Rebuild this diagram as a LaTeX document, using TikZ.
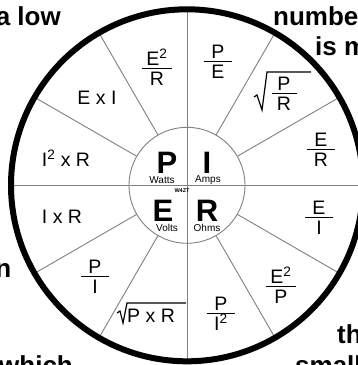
\documentclass[tikz,border=0pt]{standalone}
\usepackage{fontspec}
\setmainfont{Liberation Sans}
\usetikzlibrary{calc}
\newcommand\frc[3][28pt]{\vbox{\hsize=#1\offinterlineskip
  \hbox to #1{\hss#2\hss}\kern2.6pt
  \hrule height 1.3pt\kern3pt
  \hbox to #1{\hss#3\hss}}}
\newcommand\sq{\smash{\textsuperscript{2}}}
\tikzset{
  spoke/.style={draw=gray, line width=0.9pt},
  rim/.style={draw=black, line width=6pt},
  formula/.style={inner sep=0pt, font=\fontsize{19.5}{21}\selectfont},
  big/.style={inner sep=0pt, font=\fontsize{31}{31}\selectfont\bfseries},
  unit/.style={inner sep=0pt, font=\fontsize{10}{10}\selectfont},
  bgtext/.style={inner sep=0pt, font=\fontsize{26}{30}\selectfont\bfseries},
  radical/.style={draw=black, line width=1.2pt, line join=miter},
}
\begin{document}
\begin{tikzpicture}[x=1pt,y=-1pt]
\clip (0,0) rectangle (358,365);
\fill[white] (0,0) rectangle (358,365);
\coordinate (C) at (187,185.3);
% background text fragments
\node[bgtext, anchor=base east] (t1) at (61,25) {a low};
\node[bgtext, anchor=base west] (t2) at (273,25) {numbe};
\node[bgtext, anchor=base west] (t3) at (315,55) {is m};
\node[bgtext, anchor=base east] (t4) at (11.5,277) {n};
\node[bgtext, anchor=base west] (t5) at (337,343) {th};
\node[bgtext, anchor=base west] (t6) at (-1,374) {which};
\node[bgtext, anchor=base west] (t7) at (295,374) {small};
% wheel
\draw[spoke] ($(C)+(0,-176)$) -- ($(C)+(0,176)$);
\draw[spoke] ($(C)+(-176,0)$) -- ($(C)+(176,0)$);
\foreach \a in {30,60,120,150,210,240,300,330}
  \draw[spoke,shift={(C)}] (\a:58) -- (\a:176);
\draw[spoke] (C) circle[radius=58];
\draw[rim] (C) circle[radius=176];
% centre
\node[big] (P) at (167,162.5) {P};
\node[big] (I) at (207,162.5) {I};
\node[big] (E) at (163,210.5) {E};
\node[big] (R) at (207,210.5) {R};
\node[unit] (w) at (162,180) {Watts};
\node[unit] (am) at (208,180) {Amps};
\node[unit] (v) at (167,228) {Volts};
\node[unit] (oh) at (207,228) {Ohms};
\node[inner sep=0pt, font=\fontsize{5.5}{6}\selectfont\bfseries] (call) at (182,190.5) {W4ZT};
% formulas
\node[formula] (f1) at (157,69) {\frc[30pt]{E\sq}{R}};
\node[formula] (f2) at (218,62) {\frc{P}{E}};
\node[formula] (f3) at (284,94) {\frc[25pt]{P}{R}};
\draw[radical] (254,97) -- (257,95) -- (262,110) -- (267,72) -- (311,72);
\node[formula] (f4) at (321,150) {\frc{E}{R}};
\node[formula] (f5) at (319,218) {\frc{E}{I}};
\node[formula] (f6) at (281,287) {\frc[30pt]{E\sq}{P}};
\node[formula] (f7) at (221,314) {\frc{P}{I\sq}};
\node[formula, anchor=base west] (f8) at (127,322) {P x R};
\draw[radical] (117,313) -- (120,311) -- (123,323) -- (127,303) -- (186,303);
\node[formula] (f9) at (95,277) {\frc{P}{I}};
\node[formula] (f10) at (62,217) {I x R};
\node[formula] (f11) at (66,160) {I\sq\ x R};
\node[formula] (f12) at (97,98) {E x I};
\end{tikzpicture}
\end{document}
